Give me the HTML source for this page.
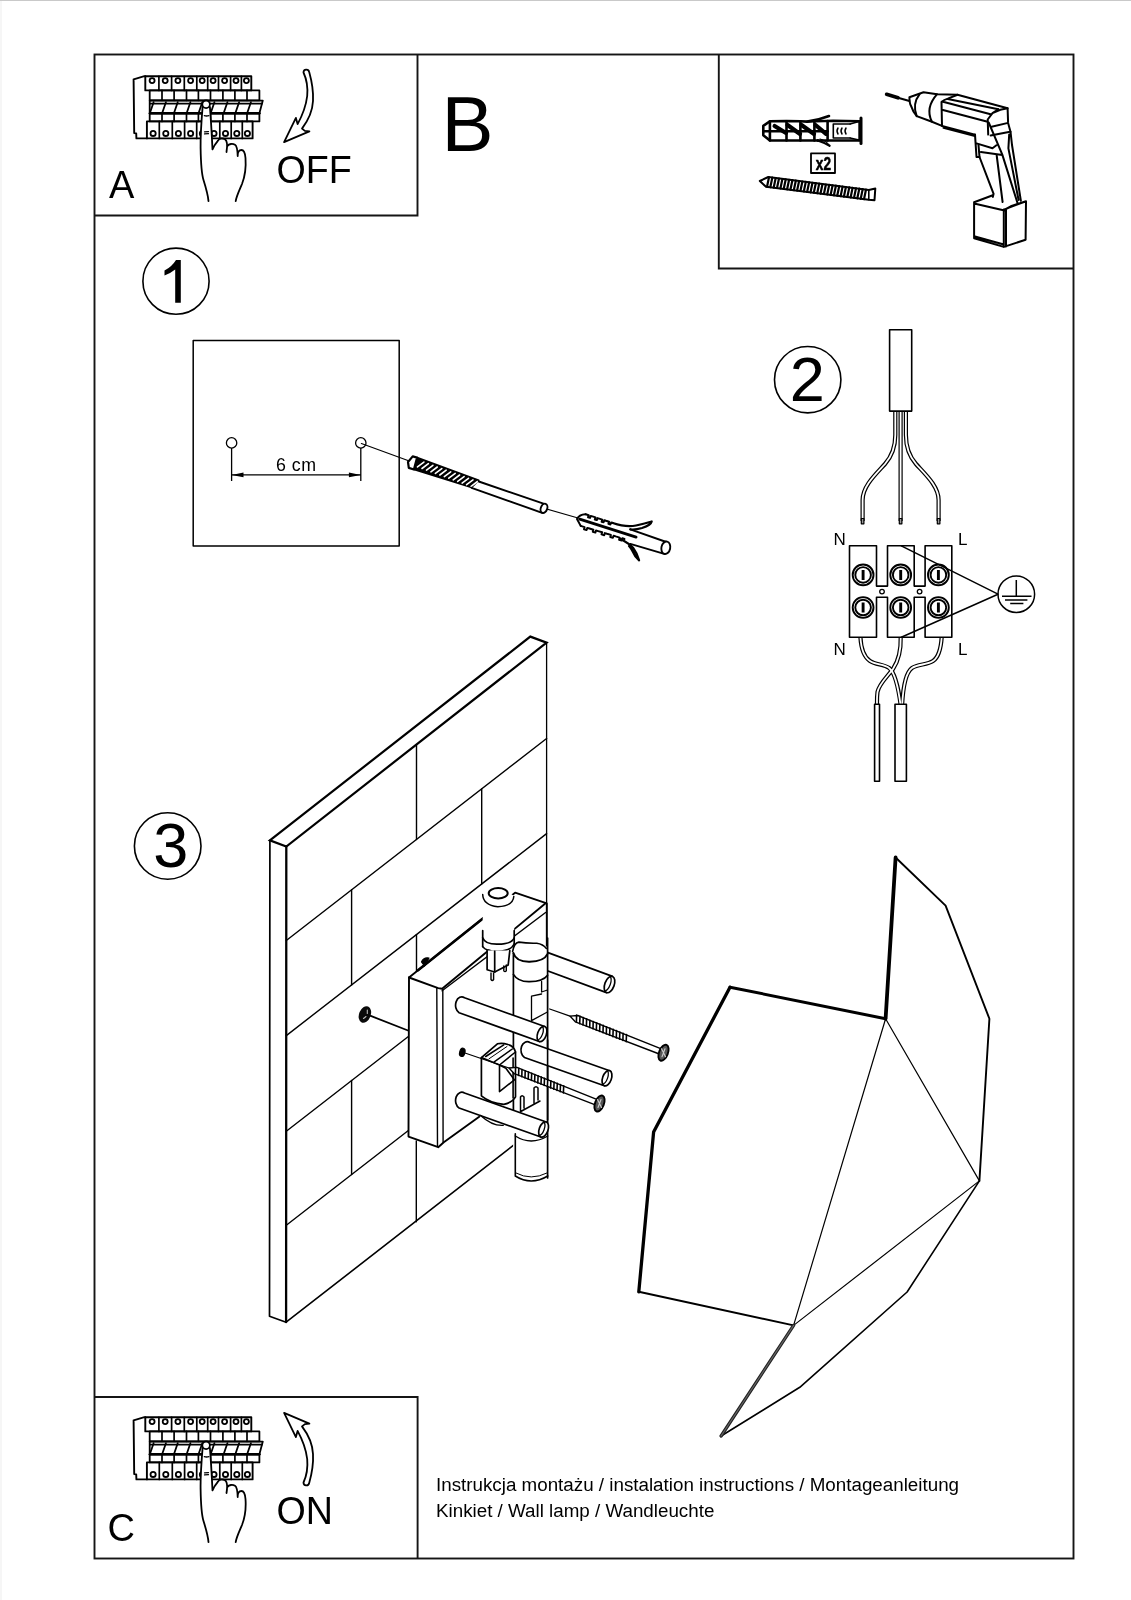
<!DOCTYPE html>
<html><head><meta charset="utf-8">
<style>
html,body{margin:0;padding:0;background:#fff;}
body{width:1131px;height:1600px;overflow:hidden;}
svg{display:block;will-change:transform;}
text{font-family:"Liberation Sans",sans-serif;fill:#000;}
</style></head><body>
<svg width="1131" height="1600" viewBox="0 0 1131 1600" fill="none" stroke="#000" stroke-linejoin="round" stroke-linecap="round">
<rect x="0" y="0" width="2" height="1600" fill="#f6f6f6" stroke="none"/>
<rect x="0" y="0" width="1131" height="1" fill="#c9c9c9" stroke="none"/>
<!-- frames -->
<g stroke="#151515" stroke-width="1.9" stroke-linecap="butt" stroke-linejoin="miter">
<rect x="94.5" y="54.5" width="979" height="1504"/>
<polyline points="94.5,215.5 417.5,215.5 417.5,54.5"/>
<polyline points="718.8,54.5 718.8,268.5 1073.5,268.5"/>
<polyline points="94.5,1397 417.6,1397 417.6,1558.5"/>
</g>
<!-- breakerA -->
<g id="brk">
<path d="M145.3,76.3 L144.4,76.2 L133.6,79.3 L134.2,133.1 L136.2,133.4 L136.4,138.4 L146.9,138.4" stroke-width="1.9"/>
<rect x="145.3" y="76.3" width="106.0" height="14.1" stroke-width="1.9"/>
<line x1="158.9" y1="76.3" x2="158.9" y2="90.4" stroke-width="1.7"/>
<line x1="171.6" y1="76.3" x2="171.6" y2="90.4" stroke-width="1.7"/>
<line x1="184.3" y1="76.3" x2="184.3" y2="90.4" stroke-width="1.7"/>
<line x1="196.8" y1="76.3" x2="196.8" y2="90.4" stroke-width="1.7"/>
<line x1="207.7" y1="76.3" x2="207.7" y2="90.4" stroke-width="1.7"/>
<line x1="218.5" y1="76.3" x2="218.5" y2="90.4" stroke-width="1.7"/>
<line x1="230.6" y1="76.3" x2="230.6" y2="90.4" stroke-width="1.7"/>
<line x1="241.4" y1="76.3" x2="241.4" y2="90.4" stroke-width="1.7"/>
<circle cx="152.1" cy="80.6" r="2.5" stroke-width="1.8"/>
<circle cx="165.2" cy="80.6" r="2.5" stroke-width="1.8"/>
<circle cx="177.9" cy="80.6" r="2.5" stroke-width="1.8"/>
<circle cx="190.6" cy="80.6" r="2.5" stroke-width="1.8"/>
<circle cx="202.2" cy="80.6" r="2.5" stroke-width="1.8"/>
<circle cx="213.1" cy="80.6" r="2.5" stroke-width="1.8"/>
<circle cx="224.6" cy="80.6" r="2.5" stroke-width="1.8"/>
<circle cx="236.0" cy="80.6" r="2.5" stroke-width="1.8"/>
<circle cx="246.4" cy="80.6" r="2.5" stroke-width="1.8"/>
<rect x="149.7" y="90.4" width="109.7" height="9.9" stroke-width="1.8"/>
<rect x="149.7" y="113.3" width="109.7" height="8.1" stroke-width="1.8"/>
<line x1="162.0" y1="90.4" x2="162.0" y2="100.3" stroke-width="1.7"/>
<line x1="162.0" y1="113.3" x2="162.0" y2="121.4" stroke-width="1.7"/>
<line x1="174.1" y1="90.4" x2="174.1" y2="100.3" stroke-width="1.7"/>
<line x1="174.1" y1="113.3" x2="174.1" y2="121.4" stroke-width="1.7"/>
<line x1="186.5" y1="90.4" x2="186.5" y2="100.3" stroke-width="1.7"/>
<line x1="186.5" y1="113.3" x2="186.5" y2="121.4" stroke-width="1.7"/>
<line x1="198.4" y1="90.4" x2="198.4" y2="100.3" stroke-width="1.7"/>
<line x1="198.4" y1="113.3" x2="198.4" y2="121.4" stroke-width="1.7"/>
<line x1="210.5" y1="90.4" x2="210.5" y2="100.3" stroke-width="1.7"/>
<line x1="210.5" y1="113.3" x2="210.5" y2="121.4" stroke-width="1.7"/>
<line x1="222.9" y1="90.4" x2="222.9" y2="100.3" stroke-width="1.7"/>
<line x1="222.9" y1="113.3" x2="222.9" y2="121.4" stroke-width="1.7"/>
<line x1="234.9" y1="90.4" x2="234.9" y2="100.3" stroke-width="1.7"/>
<line x1="234.9" y1="113.3" x2="234.9" y2="121.4" stroke-width="1.7"/>
<line x1="247.0" y1="90.4" x2="247.0" y2="100.3" stroke-width="1.7"/>
<line x1="247.0" y1="113.3" x2="247.0" y2="121.4" stroke-width="1.7"/>
<path d="M149.7,100.3 L262.8,100.6 L259.4,113.3 L149.7,113.3 Z" stroke-width="1.8"/>
<line x1="150" y1="103.6" x2="262" y2="103.6" stroke-width="1.8"/>
<line x1="150" y1="113.3" x2="259.4" y2="113.3" stroke-width="2.6"/>
<line x1="153.6" y1="102.2" x2="150.0" y2="112.8" stroke-width="1.8"/>
<line x1="165.9" y1="102.2" x2="162.3" y2="112.8" stroke-width="1.8"/>
<line x1="177.7" y1="102.2" x2="174.1" y2="112.8" stroke-width="1.8"/>
<line x1="190.4" y1="102.2" x2="186.8" y2="112.8" stroke-width="1.8"/>
<line x1="202.3" y1="102.2" x2="198.7" y2="112.8" stroke-width="1.8"/>
<line x1="214.4" y1="102.2" x2="210.8" y2="112.8" stroke-width="1.8"/>
<line x1="227.4" y1="102.2" x2="223.8" y2="112.8" stroke-width="1.8"/>
<line x1="239.1" y1="102.2" x2="235.5" y2="112.8" stroke-width="1.8"/>
<line x1="250.9" y1="102.2" x2="247.3" y2="112.8" stroke-width="1.8"/>
<rect x="146.9" y="121.4" width="105.7" height="17" stroke-width="1.9"/>
<line x1="159.3" y1="121.4" x2="159.3" y2="138.4" stroke-width="1.7"/>
<line x1="172.3" y1="121.4" x2="172.3" y2="138.4" stroke-width="1.7"/>
<line x1="184.6" y1="121.4" x2="184.6" y2="138.4" stroke-width="1.7"/>
<line x1="196.7" y1="121.4" x2="196.7" y2="138.4" stroke-width="1.7"/>
<line x1="208.2" y1="121.4" x2="208.2" y2="138.4" stroke-width="1.7"/>
<line x1="219.8" y1="121.4" x2="219.8" y2="138.4" stroke-width="1.7"/>
<line x1="231.2" y1="121.4" x2="231.2" y2="138.4" stroke-width="1.7"/>
<line x1="242.3" y1="121.4" x2="242.3" y2="138.4" stroke-width="1.7"/>
<circle cx="153.1" cy="133.4" r="2.6" stroke-width="1.8"/>
<circle cx="165.8" cy="133.4" r="2.6" stroke-width="1.8"/>
<circle cx="178.4" cy="133.4" r="2.6" stroke-width="1.8"/>
<circle cx="190.6" cy="133.4" r="2.6" stroke-width="1.8"/>
<circle cx="202.4" cy="133.4" r="2.6" stroke-width="1.8"/>
<circle cx="214.0" cy="133.4" r="2.6" stroke-width="1.8"/>
<circle cx="225.5" cy="133.4" r="2.6" stroke-width="1.8"/>
<circle cx="236.8" cy="133.4" r="2.6" stroke-width="1.8"/>
<circle cx="247.4" cy="133.4" r="2.6" stroke-width="1.8"/>
<path d="M202.6,106.9 C201.5,120 200.4,135 200.6,148 C200.8,160 201,172 203.5,180 C206,188 208,195 208.5,201.1 L235.7,201.1 C236.5,196 239.5,190 242,184 C245.5,175 246,165 245.5,158 C245,152 243,150 241.5,150 L237.7,150 L237,145 L226.5,141 L217.8,140.8 L212.5,149.4 L209.9,106.9 Z" fill="#fff" stroke="none"/>
<path d="M202.6,106.9 C201.5,120 200.4,135 200.6,148 C200.8,160 201,172 203.5,180 C206,188 208,195 208.5,201.1 M235.7,201.1 C236.5,196 239.5,190 242,184 C245.5,175 246,165 245.5,158 C245,152 243,150 241.5,150 C239,150 237.5,152 237.7,156 M237.7,156 C237.5,150 237,146 235,144.8 C232.5,143.3 229,143.8 227.5,146 M226.5,152 C227.5,146 227.5,141 225,139.2 C222,137.8 219,138.5 217.8,140.8 C215.5,143.5 213.5,147 212.5,149.4 C211.8,135 211,120 209.9,106.9" stroke-width="1.8"/>
<circle cx="206.1" cy="104.3" r="3.8" fill="#fff" stroke-width="1.8"/>
<path d="M204.3,115.6 Q206.5,116.4 208.9,115.6" stroke-width="1.3"/>
<path d="M204.5,131.8 L208.5,131.6 M204.5,133.9 L208.5,133.7" stroke-width="1.2"/>
</g>
<use href="#brk" transform="translate(0,1341)"/>
<!-- /breakerA -->
<path id="arw" d="M303.5,72.5 C303.5,69 308.5,68.5 309.2,72 C312,82 313.5,92 313,101 C312.5,112 307,122 302,128.6 L304.9,130.9 L309.4,131.4 L284.1,142.1 L295.9,117.9 L297.6,124.1 C302,116 306,106 307.2,96 C308,87 306.5,79 303.5,72.5 Z" stroke-width="1.8"/>
<use href="#arw" transform="translate(0,1555) scale(1,-1)"/>
<g id="boxb">
<!-- dowel -->
<g stroke-width="2.6">
<path d="M769.9,121.3 L763.3,125.9 L763.3,135.2 L769.9,140.5 L817.7,140.5 M769.9,121.3 L786.5,121 L800.4,121.3 L807.1,121.6 Q819,120 829,116" stroke-width="2.6"/>
<path d="M807.1,121.6 L833,120.8 L859.2,121.2 M817.7,140.5 L859.2,140.5" stroke-width="2.4"/>
<path d="M817.7,140.5 Q824,142.5 829.6,145.8" stroke-width="2.2"/>
<path d="M820,139 Q826,140.5 829.6,145.8" stroke-width="1.2"/>
<path d="M763.5,131.2 L827.6,131.2" stroke-width="2.6"/>
<path d="M769.9,121.5 L769.9,140.5 M786.5,121.5 L786.5,140.5 M800.4,121.5 L800.4,140.5 M814.4,121.5 L814.4,140.5 M827.6,121 L827.6,140.5" stroke-width="2.6"/>
<path d="M774.6,126 L786,133 M787.5,125 L800,134 M801.5,125 L814,134 M815.5,125 L826,133.9" stroke-width="4.2"/>
<path d="M859.2,121.2 L859.2,140.5" stroke-width="1.8"/>
<path d="M861,118.1 L861,143.6" stroke-width="3"/>
<path d="M833.3,124 L850.1,124 M833.3,138 L850.1,138 M833.3,124 L833.3,138" stroke-width="1.6"/>
<path d="M838,128 Q836,131 838,134 M842,128 Q840,131 842,134 M846,128 Q844,131 846,134" stroke-width="1.5"/>
<path d="M850.1,124 L859,121.5 M850.1,138 L859,140" stroke-width="1.4"/>
</g>
<!-- x2 box -->
<rect x="811" y="153.4" width="24" height="19.6" stroke-width="1.8"/>
<text x="823.5" y="170.2" font-size="17.5" font-weight="bold" text-anchor="middle" stroke="#000" stroke-width="0.5" transform="translate(823,0) scale(0.78,1) translate(-823,0)">x2</text>
<!-- screw -->
<path d="M759.8,181 L768.3,177 L868.8,189.9 L875.3,188.5 L874.5,200.3 L868.8,199.8 L766,186.8 Z" stroke-width="2"/>
<path d="M769.0,177.3 L767.0,186.7 M772.3,177.7 L770.3,187.2 M775.7,178.1 L773.7,187.6 M779.0,178.6 L777.0,188.0 M782.4,179.0 L780.4,188.4 M785.7,179.4 L783.7,188.9 M789.1,179.8 L787.1,189.3 M792.4,180.2 L790.4,189.7 M795.8,180.7 L793.8,190.2 M799.1,181.1 L797.1,190.6 M802.4,181.5 L800.4,191.0 M805.8,181.9 L803.8,191.5 M809.1,182.4 L807.1,191.9 M812.5,182.8 L810.5,192.3 M815.8,183.2 L813.8,192.7 M819.2,183.6 L817.2,193.2 M822.5,184.1 L820.5,193.6 M825.9,184.5 L823.9,194.0 M829.2,184.9 L827.2,194.5 M832.6,185.3 L830.6,194.9 M835.9,185.7 L833.9,195.3 M839.2,186.2 L837.2,195.7 M842.6,186.6 L840.6,196.2 M845.9,187.0 L843.9,196.6 M849.3,187.4 L847.3,197.0 M852.6,187.9 L850.6,197.5 M856.0,188.3 L854.0,197.9 M859.3,188.7 L857.3,198.3 M862.7,189.1 L860.7,198.8 M866.0,189.5 L864.0,199.2" stroke-width="2.2"/>
<path d="M868.8,189.9 L868.8,199.8" stroke-width="1.6"/>
<!-- drill -->
<g stroke-width="2">
<path d="M886.6,94.3 L898,97.8" stroke-width="3.6"/>
<path d="M898,97.8 L909.4,101" stroke-width="2"/>
<path d="M909.4,97.2 L923.5,92.3 L937.1,94.2 L957.5,94.7 L1007.6,108.3 M909.4,97.2 Q909.5,103 910.8,105.4 Q913,112 916.7,116.1 L931.3,121.5 L942,125.9"/>
<path d="M919.6,94.2 Q912,104 916.7,116.1 M937.1,94.2 Q925,108 931.8,121.5"/>
<path d="M941.5,102 L942,125.9 M941.5,102 Q944,99.5 947.8,98.6 L957.5,94.7 M947.8,99.1 L998.4,109.3 M942,101.5 L990.6,114.2 M942,109.8 L986.7,121.5 M942,125.9 L975,134.6 M943.4,127.8 L975,136"/>
<path d="M987.7,119.5 L992.5,113.2 L1000.3,109.8 L1007.6,108.3 L1008.1,122.9 L1010.5,131.7 M987.7,119.5 L988.2,134.6 M991.6,126.8 L1008.1,122.9 M990.6,135.6 L1010.1,131.7 M992.5,113.2 L998.4,109.3"/>
<path d="M975,134.6 L976.5,157 M976.5,143.4 L992.5,148.2 L996.4,145.3 M980.9,152.1 L1002.3,155 M988.7,122.5 L1002.3,154.6 L1017.8,203.9 M976.5,157 L979.5,157"/>
<path d="M1010.5,131.7 L1012,145 L1020.9,200.8 M1009.2,134.4 L1008.4,148.4 L1018.6,200 M978.5,145 L979.5,157 L993.6,193.8 L992.8,196.9 M996.7,155.5 L1002.6,202"/>
<path d="M974.1,202.3 L992.8,195.3 M974.1,202.3 L974.1,238.3 L1003.8,246.9 L1025.6,239.8 L1026,201.2 L1004.5,209.4 M974.1,203.5 L1004.5,210.5 M1003.8,209.4 L1003.8,246.9 M1006,210 L1006,246.5 M1005,209.4 Q1008,208 1010.8,206.3 L1026,201.2 M975,236.5 L1003.8,244.5"/>
</g>
</g>
</g>

<g id="sec1">
<rect x="193.2" y="340.6" width="206" height="205.4" stroke-width="1.5"/>
<circle cx="231.6" cy="442.9" r="5.2" stroke-width="1.3"/>
<circle cx="360.8" cy="442.9" r="5.2" stroke-width="1.3"/>
<path d="M231.6,448 L231.6,481 M360.8,448 L360.8,481 M231.6,474.9 L360.8,474.9" stroke-width="1.3" stroke-linecap="butt"/>
<path d="M231.6,474.9 L243.5,472.6 L243.5,477.2 Z M360.8,474.9 L348.9,472.6 L348.9,477.2 Z" fill="#000" stroke="none"/>
<text x="276" y="471.1" font-size="17.8" letter-spacing="0.5" stroke="none">6 cm</text>
<path d="M361.4,443.5 L412,462 M543,508 L578,518" stroke-width="1.2"/>
<!-- drill bit -->
<path d="M417.1,457.6 L478.8,480.2 L471.6,487.4 L413.9,469.5 Z" fill="#000" stroke-width="1.6"/>
<path d="M417.5,466.9 L423.9,462.1 M422.0,468.5 L428.4,463.7 M426.5,470.1 L432.9,465.3 M430.9,471.8 L437.3,467.0 M435.4,473.4 L441.8,468.6 M439.8,475.0 L446.2,470.2 M444.3,476.6 L450.7,471.8 M448.8,478.2 L455.2,473.4 M453.2,479.8 L459.6,475.0 M457.7,481.4 L464.1,476.6 M462.1,483.1 L468.5,478.3 M466.6,484.7 L473.0,479.9 M471.1,486.3 L477.5,481.5" stroke="#fff" stroke-width="1.6"/>
<path d="M412.7,456.4 L417.1,457.6 L413.9,469.5 L408.8,467.9 L408,462 Z" fill="#fff" stroke-width="2.2"/>
<path d="M478.8,481.5 L543.5,503.6 M471.6,487.8 L542.1,512.8" stroke-width="1.9"/>
<ellipse cx="544" cy="508.3" rx="3.2" ry="4.8" transform="rotate(20 544 508.3)" stroke-width="1.9" fill="#fff"/>
<!-- dowel -->
<path d="M585.6,514.2 Q579,514.5 577,519 L580.7,525.9" stroke-width="2"/>
<path d="M585.6,514.2 L588.7,515.2 L588.0,517.3 L590.0,517.9 L590.7,515.9 L592.4,516.4 L595.5,517.4 L594.8,519.5 L596.8,520.1 L597.5,518.1 L599.2,518.6 L602.3,519.6 L601.6,521.7 L603.6,522.3 L604.3,520.2 L606.0,520.8 L609.1,521.8 L608.4,523.9 L610.4,524.5 L611.1,522.5 L612.8,523.0" stroke-width="2"/>
<path d="M580.7,525.9 L584.6,527.1 L584.0,529.2 L586.6,530.0 L587.3,527.9 L589.5,528.5 L593.4,529.7 L592.8,531.8 L595.4,532.6 L596.0,530.5 L598.2,531.1 L602.2,532.3 L601.5,534.4 L604.2,535.2 L604.8,533.1 L607.0,533.8 L610.9,534.9 L610.3,537.0 L612.9,537.8 L613.6,535.7 L615.7,536.4 L619.7,537.6 L619.1,539.7 L621.7,540.5 L622.3,538.3 L624.5,539.0" stroke-width="2"/>
<path d="M579.7,519.1 L636.1,537.1" stroke-width="2.8"/>
<path d="M612.8,523 Q626,527.5 636,525.5 Q645,523.5 651.7,521.5 Q651,525 642,528 Q635,530 630.3,529.3" stroke-width="2.2"/>
<path d="M630.3,529.3 L666.3,542 M630.3,543.9 L663.4,553.6" stroke-width="1.9"/>
<path d="M620.6,539 Q630,544 633.2,548 Q637,553 639.1,560.4 Q635,557 633,552 Q631,548 629,546" stroke-width="2.2"/>
<ellipse cx="665.8" cy="547.8" rx="4.4" ry="6.3" transform="rotate(12 665.8 547.8)" stroke-width="1.9" fill="#fff"/>
</g>

<g id="sec2">
<rect x="889.6" y="329.7" width="22.1" height="81.4" stroke-width="1.6"/>
<g stroke-width="4.2" stroke="#000" stroke-linecap="butt">
<path d="M895.3,412 L895.3,435 C895.3,448 892,456 885,464 C876,474 862.6,486 862.6,500 L862.6,521"/>
<path d="M900.6,412 L900.6,521"/>
<path d="M905.9,412 L905.9,435 C905.9,448 909,456 916,464 C925,474 938.6,486 938.6,500 L938.6,521"/>
</g>
<g stroke-width="1.8" stroke="#fff" stroke-linecap="butt">
<path d="M895.3,412 L895.3,435 C895.3,448 892,456 885,464 C876,474 862.6,486 862.6,500 L862.6,519"/>
<path d="M900.6,412 L900.6,519"/>
<path d="M905.9,412 L905.9,435 C905.9,448 909,456 916,464 C925,474 938.6,486 938.6,500 L938.6,519"/>
</g>
<path d="M861.3,518.5 h2.6 v5.3 h-2.6 Z M899.3,518.5 h2.6 v5.3 h-2.6 Z M937.3,518.5 h2.6 v5.3 h-2.6 Z" fill="#999" stroke-width="1.2"/>
<!-- labels -->
<g stroke="none" font-size="17">
<text x="833.5" y="545">N</text>
<text x="958" y="545">L</text>
<text x="833.5" y="654.5">N</text>
<text x="958" y="654.5">L</text>
</g>
<!-- wires below block -->
<g stroke-width="4.2">
<path d="M860.4,637 C861,648 864,657 870,661 C876,665 884,664 889.4,668.2 C895,673 898,685 900.7,705"/>
<path d="M900.7,637 C901,648 899,660 893,669 C887,677 879,684 877.5,692 C876.8,697 877,702 877,705"/>
<path d="M941.7,637 C941,648 939,657 933,661 C927,665 918,664 912,668 C905,673 903,688 902.1,705"/>
</g>
<g stroke-width="1.8" stroke="#fff">
<path d="M860.4,637 C861,648 864,657 870,661 C876,665 884,664 889.4,668.2 C895,673 898,685 900.7,706"/>
<path d="M900.7,637 C901,648 899,660 893,669 C887,677 879,684 877.5,692 C876.8,697 877,702 877,706"/>
<path d="M941.7,637 C941,648 939,657 933,661 C927,665 918,664 912,668 C905,673 903,688 902.1,706"/>
</g>
<rect x="874.6" y="704.3" width="4.9" height="77" stroke-width="1.6" fill="#fff"/>
<rect x="895" y="704.3" width="11.4" height="77" stroke-width="1.6" fill="#fff"/>
<!-- terminal block -->
<path d="M849.5,545.8 L876.5,545.8 L876.5,586.1 L887.5,586.1 L887.5,545.8 L914.2,545.8 L914.2,586.1 L925.1,586.1 L925.1,545.8 L951.8,545.8 L951.8,637.3 L925.1,637.3 L925.1,597.3 L914.2,597.3 L914.2,637.3 L887.5,637.3 L887.5,597.3 L876.5,597.3 L876.5,637.3 L849.5,637.3 Z" stroke-width="1.6" fill="#fff"/>
<circle cx="882" cy="591.6" r="2.3" stroke-width="1.3"/>
<circle cx="919.6" cy="591.6" r="2.3" stroke-width="1.3"/>
<g stroke-width="1.9">
<circle cx="863.1" cy="574.9" r="10.4"/><circle cx="863.1" cy="574.9" r="7.8"/>
<circle cx="900.7" cy="574.9" r="10.4"/><circle cx="900.7" cy="574.9" r="7.8"/>
<circle cx="938.4" cy="574.9" r="10.4"/><circle cx="938.4" cy="574.9" r="7.8"/>
<circle cx="863.1" cy="607.5" r="10.4"/><circle cx="863.1" cy="607.5" r="7.8"/>
<circle cx="900.7" cy="607.5" r="10.4"/><circle cx="900.7" cy="607.5" r="7.8"/>
<circle cx="938.4" cy="607.5" r="10.4"/><circle cx="938.4" cy="607.5" r="7.8"/>
</g>
<path d="M863.1,570 L863.1,580 M900.7,570 L900.7,580 M938.4,570 L938.4,580 M863.1,602.6 L863.1,612.6 M900.7,602.6 L900.7,612.6 M938.4,602.6 L938.4,612.6" stroke-width="2.9" stroke-linecap="butt"/>
<!-- earth -->
<path d="M901.3,545.8 L998,594.2 L901.3,637.3" stroke-width="1.5"/>
<circle cx="1016.3" cy="594.2" r="18.3" stroke-width="1.5"/>
<path d="M1016.3,580 L1016.3,596.3 M1002,596.3 L1031.5,596.3 M1005,600 L1027.4,600 M1010.2,603.4 L1023.4,603.4" stroke-width="1.5" stroke-linecap="butt"/>
</g>

<!-- SEC3 -->
<g id="sec3">
<path d="M269.9,840.4 L530.3,636.6 L546.6,642.6 L286.3,846.5 Z" stroke-width="2.2" stroke-linejoin="miter"/>
<path d="M269.9,840.4 L269.5,1316.2 L286.1,1322.2" stroke-width="1.7"/>
<path d="M286.3,846.5 L286.1,1322.2" stroke-width="2.3"/>
<path d="M286.1,1322.2 L514.6,1144.4" stroke-width="1.6"/>
<path d="M546.6,642.6 L546.6,1125" stroke-width="1.3"/>
<path d="M286.3,940.5 L546.6,738.5" stroke-width="1.4"/>
<path d="M286.3,1035.6 L546.6,833.6" stroke-width="1.4"/>
<path d="M286.3,1131.2 L409,1036.0" stroke-width="1.4"/>
<path d="M286.3,1225.2 L409,1130.0" stroke-width="1.4"/>
<path d="M416.5,745.5 L416.5,839.5" stroke-width="1.4"/>
<path d="M481.7,788.9 L481.7,884.0" stroke-width="1.4"/>
<path d="M351.6,889.8 L351.6,984.9" stroke-width="1.4"/>
<path d="M416.5,934.6 L416.5,972" stroke-width="1.4"/>
<path d="M351.6,1080.5 L351.6,1174.5" stroke-width="1.4"/>
<path d="M416.3,1141 L416.3,1221.7" stroke-width="1.4"/>
<ellipse cx="364.9" cy="1014.5" rx="5.8" ry="8.6" transform="rotate(22 364.9 1014.5)" stroke="none" fill="#0a0a0a"/>
<path d="M367.3,1010 L367.3,1013.5 M363.5,1018.5 L366,1016.5" stroke="#bbb" stroke-width="1.1"/>
<path d="M370.7,1015.9 L408,1030.5" stroke-width="1.8"/>
<path d="M409,977.5 L515.1,892.7 L545.6,903.3 L547.6,1060 L443.8,1142.2 L438.2,1147.2 L408.5,1136.6 Z" stroke-width="0" fill="#fff" stroke="none"/>
<path d="M409,977.5 L438.2,988.1 L442.1,988.8 L545.6,903.3" stroke-width="1.9"/>
<path d="M409,977.5 L515.1,892.7 L546.8,903.3 L546.8,950" stroke-width="1.9"/>
<path d="M418,970.3 L483.2,918.2" stroke-width="2.6"/>
<path d="M442.1,990.8 L545.6,912.5" stroke-width="1.4"/>
<path d="M409,977.5 L408.5,1136.6 L438.2,1147.2 L443.8,1142.2 L479.2,1116.8" stroke-width="1.9"/>
<path d="M436.8,988 L437.5,1146.6 M442.8,989.5 L443.1,1142.2" stroke-width="1.4"/>
<path d="M421.5,962 Q423.5,957 429,958 L424.5,966 Z" fill="#000" stroke-width="1.2"/>
<path d="M527.0,963.3 L606.5,992.6 L612.5,976.4 L533.0,947.1 Z" fill="#fff" stroke="none"/>
<path d="M527.0,963.3 L606.5,992.6 M612.5,976.4 L533.0,947.1" stroke-width="1.7" fill="none"/>
<ellipse cx="609.5" cy="984.5" rx="4.7" ry="8.6" transform="rotate(20.2 609.5 984.5)" stroke-width="1.7" fill="#fff"/>
<path d="M604.3,991.3 A4.7,8.6 20.2 0 0 610.0,976.0" stroke-width="1.3"/>
<path d="M513.1,947 L513.1,1183 L547.6,1183 L547.6,947 Q530,938 513.1,947 Z" stroke-width="0" fill="#fff" stroke="none"/>
<path d="M513.4,953 L513.4,1120 M547.6,938 L547.6,1178" stroke-width="1.7"/>
<path d="M512.6,951.5 Q514,943 518.8,942.1 Q527,943.5 536.8,943.2 Q543,944 546.4,948.5" stroke-width="1.6"/>
<path d="M513.4,953 Q516,962 529.7,961.7 Q544,961.5 547.6,953.8" stroke-width="1.9"/>
<path d="M513.4,974.4 Q518,982 529.7,981.6 Q543,981.5 547.6,975.2" stroke-width="1.7"/>
<path d="M541.6,981.4 L541.6,992 L547.4,990 M531.5,996.2 L541.6,994 M531.5,996.2 L531.5,1020.6 L547.4,1012" stroke-width="1.3"/>
<path d="M515.3,1133.7 L515.3,1176 Q531,1186 547.8,1176" stroke-width="1.6"/>
<path d="M516,1173 Q531,1181 547,1173" stroke-width="1.0"/>
<path d="M515.3,1136 Q531,1146 547.8,1136" stroke-width="1.4"/>
<path d="M482.7,896 L482.7,946.6 Q498,956 514.2,944 L514.2,896 Q498,884 482.7,896 Z" stroke-width="0" fill="#fff" stroke="none"/>
<ellipse cx="498.2" cy="893.3" rx="9.5" ry="5.2" stroke-width="2" fill="#fff"/>
<path d="M482.7,894.5 Q483,905 497.8,906.8 Q513,906 513.8,896.5" stroke-width="1.5"/>
<path d="M482.7,930.7 L482.7,946.6 M514.2,930.7 L514.2,944" stroke-width="1.7"/>
<path d="M482.7,937.8 Q485,944.5 497.8,944.2 Q512,944 514.2,937.8" stroke-width="1.7"/>
<path d="M482.7,946.6 Q486,951.5 497.8,951.4 Q511,951 514.2,944" stroke-width="1.7"/>
<path d="M487.1,950.6 L487.1,969.7 L494.7,972 L508.2,964.9 L509.8,950.6" stroke-width="1.7" fill="#fff"/>
<path d="M494.7,951.4 L494.7,972" stroke-width="1.7"/>
<path d="M491,973 L491,979.5 Q492.3,981.5 493.6,979.5 L493.6,973 M503.8,966 L503.8,970.8 Q505,972.5 506.3,970.8 L506.3,965" stroke-width="1.4"/>
<path d="M459.1,1012.7 L539.3,1041.5 L544.7,1026.5 L464.5,997.7 A6.0,8.0 0 0 0 459.1,1012.7 Z" stroke-width="1.7" fill="#fff"/>
<ellipse cx="542.0" cy="1034.0" rx="4.4" ry="8.0" transform="rotate(19.8 542.0 1034.0)" stroke-width="1.7" fill="#fff"/>
<path d="M537.1,1040.3 A4.4,8.0 19.8 0 0 542.2,1026.0" stroke-width="1.3"/>
<path d="M481.4,1057.6 L481.4,1095.8 Q490,1103 503.8,1104.3 Q512,1103 515.5,1096.9 L515.5,1052 Q514,1046 508,1044.5 Q502,1042.5 497.4,1043.8 Z" stroke-width="1.7" fill="#fff"/>
<path d="M481.4,1057.6 L499.5,1065 M499.5,1065 L499.5,1091.6 M499.5,1065 L505.9,1068.2 L514.4,1079.9 L499.5,1091.6 M515.5,1052 L499.5,1065" stroke-width="1.6"/>
<path d="M485.7,1056.5 L503.8,1044.8 M494.2,1061.8 L512.3,1049" stroke-width="1.5"/>
<path d="M489,1058.8 L507,1046.5" stroke-width="1.0"/>
<path d="M524.5,1057.5 L604.3,1085.7 L609.7,1070.7 L529.9,1042.5 A6.0,8.0 0 0 0 524.5,1057.5 Z" stroke-width="1.7" fill="#fff"/>
<ellipse cx="607.0" cy="1078.2" rx="4.4" ry="8.0" transform="rotate(19.5 607.0 1078.2)" stroke-width="1.7" fill="#fff"/>
<path d="M602.1,1084.5 A4.4,8.0 19.5 0 0 607.2,1070.2" stroke-width="1.3"/>
<path d="M513.1,1058 L513.1,1098 M547.6,1040 L547.6,1120" stroke-width="1.6"/>
<path d="M520.5,1112 L520.5,1097 Q522,1094.5 524,1097 L524,1108 M534,1104 L534,1088 Q536,1085.5 538,1088 L538,1100 M518,1113 L540,1101" stroke-width="1.5"/>
<path d="M459.1,1108.0 L540.9,1137.0 L546.3,1122.0 L464.5,1093.0 A6.0,8.0 0 0 0 459.1,1108.0 Z" stroke-width="1.7" fill="#fff"/>
<ellipse cx="543.6" cy="1129.5" rx="4.4" ry="8.0" transform="rotate(19.5 543.6 1129.5)" stroke-width="1.7" fill="#fff"/>
<path d="M538.7,1135.8 A4.4,8.0 19.5 0 0 543.8,1121.5" stroke-width="1.3"/>
<path d="M480.6,1115.4 Q492,1126 503.3,1125.3" stroke-width="1.3"/>
<path d="M549.7,1009.0 L570.0,1016.1" stroke-width="1.3"/>
<path d="M570.0,1016.1 L575.3,1021.8 L660.6,1054.5 L662.6,1049.4 L577.8,1015.5 Z" stroke-width="1.4" fill="#fff"/>
<path d="M576.4,1022.3 L576.6,1015.0 M579.7,1023.6 L580.0,1016.3 M583.0,1024.9 L583.3,1017.6 M586.4,1026.2 L586.6,1018.9 M589.7,1027.5 L589.9,1020.2 M593.0,1028.8 L593.2,1021.5 M596.3,1030.1 L596.6,1022.8 M599.6,1031.4 L599.9,1024.1 M603.0,1032.7 L603.2,1025.4 M606.3,1034.0 L606.5,1026.7 M609.6,1035.3 L609.9,1028.0 M612.9,1036.6 L613.2,1029.3 M616.3,1037.9 L616.5,1030.6 M619.6,1039.2 L619.8,1032.0 M622.9,1040.5 L623.1,1033.3 M626.2,1041.8 L626.5,1034.6" stroke-width="1.6"/>
<ellipse cx="663.5" cy="1052.7" rx="4.4" ry="8.4" transform="rotate(21.4 663.5 1052.7)" stroke-width="1.9" fill="#555"/>
<path d="M661.5,1048.7 L665.5,1056.7 M665.0,1048.7 L662.0,1056.7" stroke="#ccc" stroke-width="1.1"/>
<ellipse cx="462.3" cy="1052.3" rx="2.6" ry="4.2" transform="rotate(15 462.3 1052.3)" stroke-width="1.2" fill="#000"/>
<path d="M463.5,1052.5 L509.0,1068.0" stroke-width="1.3"/>
<path d="M509.0,1068.0 L514.3,1073.7 L596.6,1105.3 L598.6,1100.2 L516.8,1067.4 Z" stroke-width="1.4" fill="#fff"/>
<path d="M515.4,1074.2 L515.6,1067.0 M518.6,1075.4 L518.8,1068.2 M521.8,1076.7 L522.0,1069.5 M525.0,1077.9 L525.2,1070.7 M528.2,1079.2 L528.5,1072.0 M531.4,1080.4 L531.7,1073.2 M534.6,1081.7 L534.9,1074.5 M537.8,1083.0 L538.1,1075.7 M541.0,1084.2 L541.3,1077.0 M544.2,1085.5 L544.5,1078.3 M547.4,1086.7 L547.7,1079.5 M550.6,1088.0 L550.9,1080.8 M553.8,1089.2 L554.1,1082.0 M557.0,1090.5 L557.3,1083.3 M560.2,1091.7 L560.5,1084.5 M563.4,1093.0 L563.7,1085.8" stroke-width="1.6"/>
<ellipse cx="599.5" cy="1103.5" rx="4.4" ry="8.4" transform="rotate(21.4 599.5 1103.5)" stroke-width="1.9" fill="#555"/>
<path d="M597.5,1099.5 L601.5,1107.5 M601.0,1099.5 L598.0,1107.5" stroke="#ccc" stroke-width="1.1"/>
</g>
<!-- /SEC3 -->
<g id="shade">
<path d="M895.6,857.5 L945.6,905.6 L989.4,1018.75 L979.4,1180.9" stroke-width="1.9"/>
<path d="M979.4,1180.9 L907.1,1292 L799.8,1387.3 L721.1,1436" stroke-width="1.6"/>
<path d="M885.6,1018.75 L979.4,1180.9 M885.6,1018.75 L793.6,1325.4 M793.6,1325.4 L979.4,1180.9" stroke-width="1.2"/>
<path d="M638.8,1291.8 L793.6,1325.4" stroke-width="1.9"/>
<path d="M793.6,1325.4 L721.1,1436" stroke="#222" stroke-width="3.3"/>
<path d="M793.6,1325.4 L721.1,1436" stroke="#666" stroke-width="1.1"/>
<path d="M730,987.2 L885.6,1018.75" stroke-width="3"/>
<path d="M895.6,857.5 L890.5,940 L885.6,1018.75" stroke-width="3.8"/>
<path d="M730,987.2 L653.6,1132.1 L638.8,1291.8" stroke-width="3.3"/>
</g>

<!-- texts -->
<g stroke="none">
<text x="109" y="198" font-size="38">A</text>
<text x="276.5" y="183.5" font-size="39" transform="translate(278,0) scale(0.965,1) translate(-278,0)">OFF</text>
<text x="441.5" y="150.5" font-size="78">B</text>
<text x="107.5" y="1541.3" font-size="38">C</text>
<text x="276.5" y="1524.3" font-size="39" transform="translate(278,0) scale(0.965,1) translate(-278,0)">ON</text>
<text x="436" y="1491.3" font-size="18.8">Instrukcja montażu / instalation instructions / Montageanleitung</text>
<text x="436" y="1516.8" font-size="18.8">Kinkiet / Wall lamp / Wandleuchte</text>
</g>
<!-- step circles -->
<circle cx="176" cy="281.2" r="33.1" stroke-width="1.6"/>
<path d="M180.8,259.9 L180.8,302.8 L175.2,302.8 L175.2,269.6 Q170.5,273.5 164.5,275.4 L164.5,270.5 Q172,266.5 176,259.9 Z" fill="#000" stroke="none"/>
<circle cx="807.7" cy="379.7" r="33.2" stroke-width="1.6"/>
<text x="807.3" y="400.5" font-size="63" text-anchor="middle" stroke="none">2</text>
<circle cx="167.7" cy="846" r="33.3" stroke-width="1.6"/>
<text x="170.8" y="867" font-size="63" text-anchor="middle" stroke="none">3</text>
</svg>
</body></html>
